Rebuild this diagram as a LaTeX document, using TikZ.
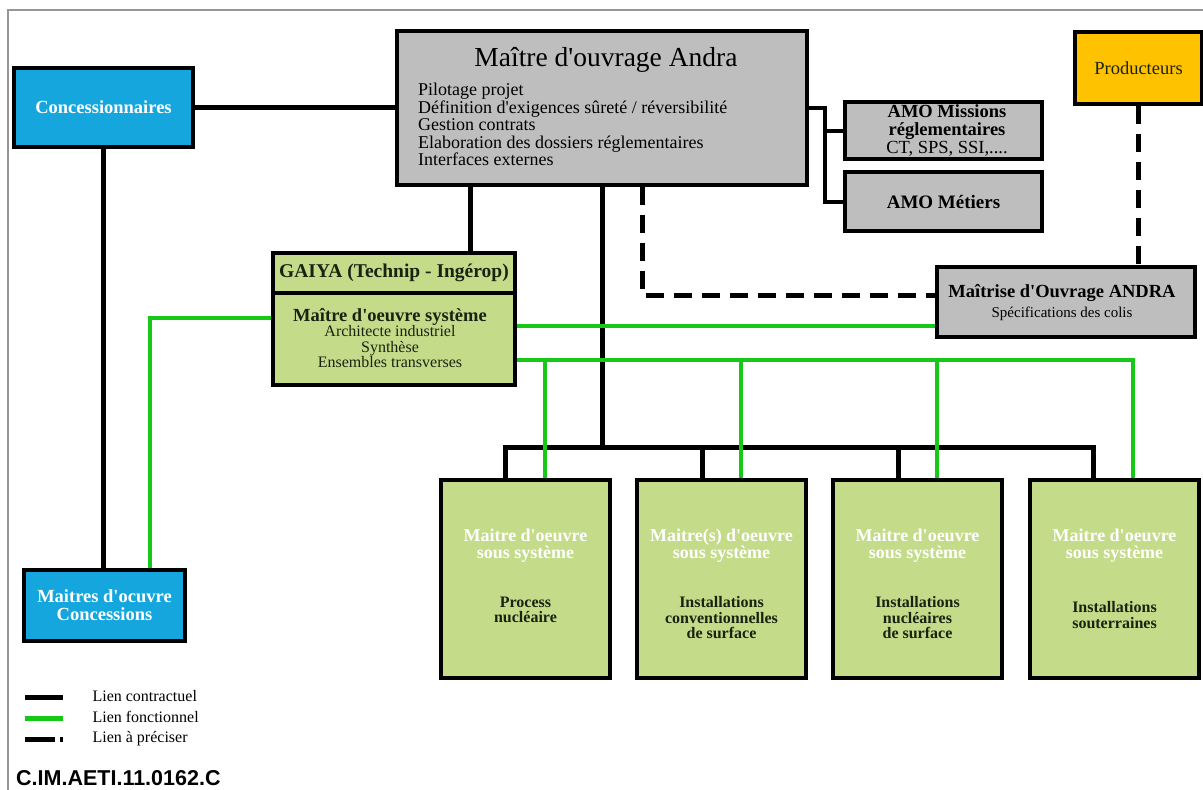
\documentclass[tikz,border=0pt]{standalone}
\usepackage{fontspec}
\setmainfont{Liberation Serif}
\newfontfamily\codefont{Liberation Sans}
\definecolor{cyanbox}{RGB}{22,166,222}
\definecolor{graybox}{RGB}{190,190,190}
\definecolor{greenbox}{RGB}{196,220,138}
\definecolor{yellowbox}{RGB}{255,194,0}
\definecolor{linegreen}{RGB}{24,200,24}
\definecolor{darktext}{RGB}{25,35,15}
\definecolor{framegray}{RGB}{150,150,150}
\newcommand{\fs}[2]{\fontsize{#1}{#2}\selectfont}
\newcommand{\q}{\textquotesingle}
\begin{document}
\begin{tikzpicture}[x=1pt,y=-1pt,
  box/.style={draw=black, line width=4pt, rectangle, inner sep=0pt, align=center},
  blk/.style={line width=5pt, black},
  thinblk/.style={line width=4pt, black},
  grn/.style={line width=4pt, linegreen},
  dsh/.style={line width=5pt, black, dash pattern=on 18pt off 10pt},
  legdsh/.style={line width=5pt, black, dash pattern=on 30pt off 5pt on 3pt off 20pt},
  subbox/.style={box, fill=greenbox, minimum width=169pt, minimum height=198pt},
  whitetxt/.style={text=white, font=\bfseries\fs{18}{17}, align=center},
  darktxt/.style={text=darktext, font=\bfseries\fs{16}{15.5}, align=center, anchor=north},
  legtxt/.style={anchor=west, font=\fs{16}{18}}]
\useasboundingbox (0,0) rectangle (1203,790);
% frame
\draw[framegray, line width=2pt] (8,790) -- (8,10) -- (1203,10);

% nodes
\node[box, fill=cyanbox, minimum width=179pt, minimum height=79pt, text=white, font=\bfseries\fs{18.5}{20}] (conc) at (103.5,107.5) {Concessionnaires};
\node[box, fill=graybox, minimum width=410pt, minimum height=154pt] (moa) at (602,108) {};
\node[font=\fs{27.5}{30}] (moatitle) at (606,60) {Maître d\q ouvrage Andra};
\node[anchor=north west, align=left, font=\fs{18}{17.5}, inner sep=0pt] (moalist) at (418,83) {Pilotage projet\\Définition d\q exigences sûreté / réversibilité\\Gestion contrats\\Elaboration des dossiers réglementaires\\Interfaces externes};

\node[box, fill=graybox, minimum width=197pt, minimum height=57pt] (amo1) at (943.5,130.5) {};
\node[align=center, font=\fs{18.5}{18}] (amo1t) at (947,131) {\textbf{AMO Missions}\\\textbf{réglementaires}\\CT, SPS, SSI,....};
\node[box, fill=graybox, minimum width=197pt, minimum height=59pt, font=\bfseries\fs{19}{20}] (amo2) at (943.5,201.5) {AMO Métiers};

\node[box, fill=yellowbox, minimum width=127pt, minimum height=72pt, text=darktext, font=\fs{18.5}{20}] (prod) at (1138.5,68) {Producteurs};

\node[box, fill=graybox, minimum width=258pt, minimum height=70pt] (mai) at (1066,302) {};
\node[align=center, font=\fs{18.5}{20}] (mait) at (1062,303) {\textbf{Maîtrise d\q Ouvrage ANDRA}\\{\fs{15}{17}Spécifications des colis}};

\node[box, fill=greenbox, minimum width=242pt, minimum height=40pt, text=darktext, font=\bfseries\fs{19.5}{21}] (gaiyah) at (394,273) {GAIYA (Technip - Ingérop)};
\node[box, fill=greenbox, minimum width=242pt, minimum height=92pt] (gaiyab) at (394,339) {};
\node[align=center, text=darktext, font=\fs{16}{15.5}] (gaiyat) at (390,338) {{\bfseries\fs{18.5}{18}Maître d\q oeuvre système}\\Architecte industriel\\Synthèse\\Ensembles transverses};

\node[box, fill=cyanbox, minimum width=161pt, minimum height=71pt, text=white, font=\bfseries\fs{18.5}{18}] (concs) at (104.5,605.5) {Maitres d\q ocuvre\\Concessions};

\node[subbox] (s1) at (525.5,579) {};
\node[subbox] (s2) at (721.5,579) {};
\node[subbox] (s3) at (917.5,579) {};
\node[subbox] (s4) at (1114.5,579) {};
\node[whitetxt] (w1) at (525.5,546) {Maitre d\q oeuvre\\sous système};
\node[whitetxt] (w2) at (721.5,546) {Maitre(s) d\q oeuvre\\sous système};
\node[whitetxt] (w3) at (917.5,546) {Maitre d\q oeuvre\\sous système};
\node[whitetxt] (w4) at (1114.5,546) {Maitre d\q oeuvre\\sous système};
\node[darktxt] (p1) at (525.5,593) {Process\\nucléaire};
\node[darktxt] (p2) at (721.5,593) {Installations\\conventionnelles\\de surface};
\node[darktxt] (p3) at (917.5,593) {Installations\\nucléaires\\de surface};
\node[darktxt] (p4) at (1114.5,598) {Installations\\souterraines};

% coordinates
\coordinate (t1) at (470,0);
\coordinate (bus) at (602,447);
\coordinate (d1) at (505,447);
\coordinate (d2) at (702,447);
\coordinate (d3) at (898,447);
\coordinate (d4) at (1093,447);
\coordinate (g1) at (150,318);
\coordinate (gup) at (0,326);
\coordinate (gr) at (1133,360);
\coordinate (e1) at (545,360);
\coordinate (e2) at (741,360);
\coordinate (e3) at (937,360);
\coordinate (dc) at (642,295);
\coordinate (a1) at (825,108);

% black contractual links
\draw[blk] (conc.east) -- (conc.east -| moa.west);
\draw[blk] (conc.south) -- (conc.south |- concs.north);
\draw[blk] (moa.south -| t1) -- (gaiyah.north -| t1);
\draw[blk] (moa.south -| bus) -- (bus);
\draw[blk] (s1.north -| d1) -- (d1) -- (d4) -- (s4.north -| d4);
\draw[blk] (d2) -- (s2.north -| d2);
\draw[blk] (d3) -- (s3.north -| d3);
\draw[thinblk] (moa.east |- a1) -- (a1) -- (a1 |- amo2.west) -- (amo2.west);
\draw[thinblk] (a1 |- amo1.west) -- (amo1.west);

% green functional links
\draw[grn] (gaiyab.west |- g1) -- (g1) -- (g1 |- concs.north);
\draw[grn] (gaiyab.east |- gup) -- (mai.west |- gup);
\draw[grn] (gaiyab.east |- gr) -- (gr) -- (s4.north -| gr);
\draw[grn] (e1) -- (s1.north -| e1);
\draw[grn] (e2) -- (s2.north -| e2);
\draw[grn] (e3) -- (s3.north -| e3);

% dashed links
\draw[dsh] (moa.south -| dc) -- (dc) -- (mai.west |- dc);
\draw[dsh] (prod.south) -- (mai.north -| prod.south);

% legend
\coordinate (l1a) at (25,697); \coordinate (l1b) at (63,697);
\coordinate (l2a) at (25,718); \coordinate (l2b) at (63,718);
\coordinate (l3a) at (25,739); \coordinate (l3b) at (63,739);
\draw[blk] (l1a) -- (l1b);
\draw[grn, line width=5pt] (l2a) -- (l2b);
\draw[legdsh] (l3a) -- (l3b);
\node[legtxt] (lt1) at (89,696) {Lien contractuel};
\node[legtxt] (lt2) at (89,717) {Lien fonctionnel};
\node[legtxt] (lt3) at (89,739) {Lien à préciser};

\node[anchor=west, inner sep=0pt, font=\codefont\bfseries\fs{21.5}{24}] (code) at (16,778) {C.IM.AETI.11.0162.C};
\end{tikzpicture}
\end{document}
